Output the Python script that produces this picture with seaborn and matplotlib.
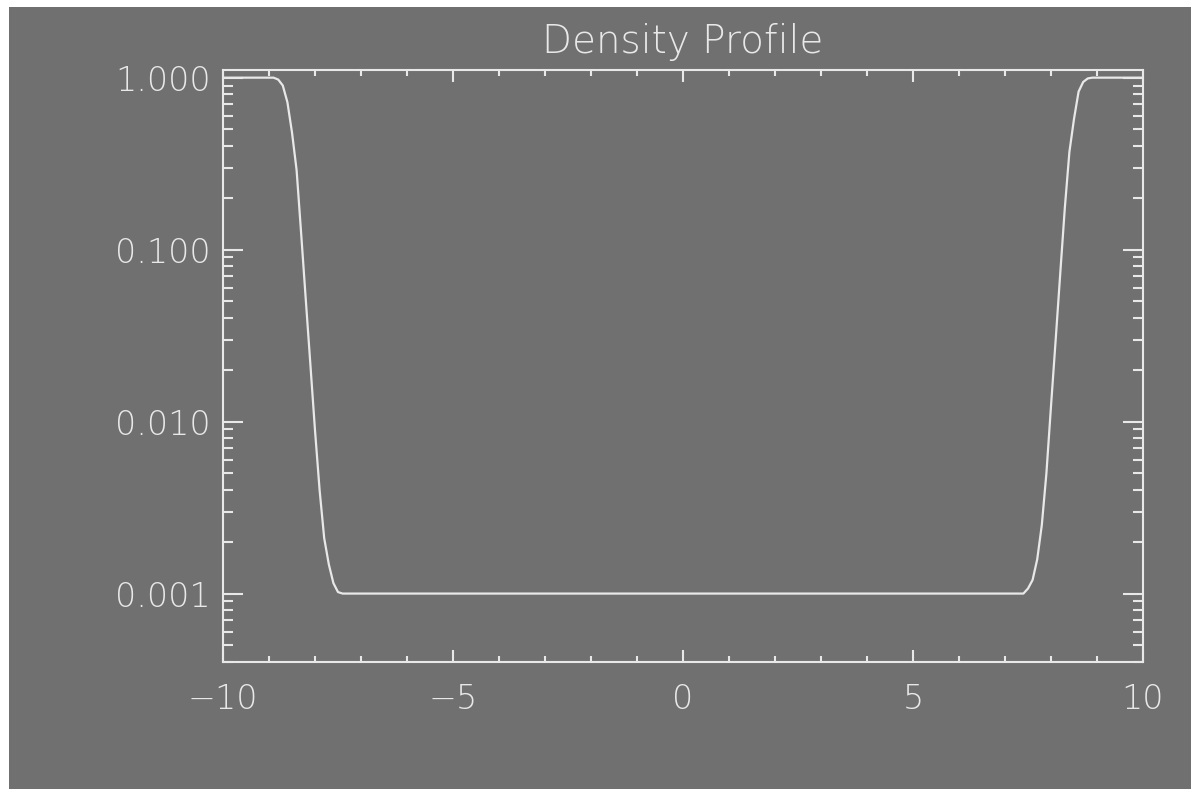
import matplotlib
matplotlib.use("Agg")
import matplotlib.pyplot as plt
import matplotlib.ticker as mticker
from matplotlib.patches import Rectangle
import seaborn as sns
import pandas as pd

# ---- data ----
x_pos = [-10.0, -8.9, -8.8, -8.7, -8.6, -8.5, -8.4, -8.3, -8.2, -8.1, -8.0,
         -7.9, -7.8, -7.7, -7.6, -7.5, -7.4,
         7.4, 7.5, 7.6, 7.7, 7.8, 7.9, 8.0, 8.1, 8.2, 8.3, 8.4, 8.5,
         8.6, 8.7, 8.8, 8.9, 10.0]
density = [1.0, 1.0, 0.975, 0.90, 0.72, 0.48, 0.29, 0.123, 0.051, 0.0214, 0.0089,
           0.0040, 0.0021, 0.00148, 0.00115, 0.00102, 0.001,
           0.001, 0.00107, 0.0012, 0.00158, 0.0025, 0.0050, 0.0123, 0.0295, 0.072, 0.174, 0.37, 0.575,
           0.83, 0.944, 0.99, 1.0, 1.0]
y_ticks = [0.001, 0.01, 0.1, 1.0]
y_tick_labels = ["0.001", "0.010", "0.100", "1.000"]
x_ticks = [-10, -5, 0, 5, 10]
x_tick_labels = ["\u221210", "\u22125", "0", "5", "10"]
title = "Density Profile"

df = pd.DataFrame({"x": x_pos, "density": density})

sns.set_theme(style="ticks")
plt.rcParams["font.family"] = ["DejaVu Sans"]
plt.rcParams["axes.unicode_minus"] = True

BG = "#707070"
FG = "#E8E8E8"
DPI = 100
W, H = 1191, 789

fig = plt.figure(figsize=(W / DPI, H / DPI), dpi=DPI)
fig.patch.set_facecolor("white")
# gray canvas offset (white strip on left and top)
fig.patches.append(Rectangle((9 / W, 0), 1 - 9 / W, 1 - 7 / H, transform=fig.transFigure,
                             facecolor=BG, edgecolor="none", zorder=-10))

ax = fig.add_axes([223 / W, 1 - 662 / H, (1143 - 223) / W, (662 - 70) / H])
ax.set_facecolor(BG)

sns.lineplot(data=df, x="x", y="density", ax=ax, color=FG, linewidth=1.6,
             estimator=None, sort=False)

ax.set_yscale("log")
ax.set_xlim(-10, 10)
ax.set_ylim(0.0004, 1.108)

ax.xaxis.set_major_locator(mticker.FixedLocator(x_ticks))
ax.xaxis.set_major_formatter(mticker.FixedFormatter(x_tick_labels))
ax.xaxis.set_minor_locator(mticker.MultipleLocator(1))
ax.yaxis.set_major_locator(mticker.FixedLocator(y_ticks))
ax.yaxis.set_major_formatter(mticker.FixedFormatter(y_tick_labels))
ax.yaxis.set_minor_locator(mticker.LogLocator(base=10, subs=[2, 3, 4, 5, 6, 7, 8, 9], numticks=20))
ax.yaxis.set_minor_formatter(mticker.NullFormatter())

for s in ax.spines.values():
    s.set_visible(True)
    s.set_color(FG)
    s.set_linewidth(1.5)

px = 72 / DPI
ax.tick_params(axis="both", which="both", direction="in", colors=FG, width=1.5,
               top=True, right=True, labeltop=False, labelright=False)
ax.tick_params(axis="x", which="major", length=12 * px, pad=21 * px, labelsize=24, labelcolor=FG)
ax.tick_params(axis="x", which="minor", length=6 * px)
ax.tick_params(axis="y", which="major", length=20 * px, pad=12 * px, labelsize=24, labelcolor=FG)
ax.tick_params(axis="y", which="minor", length=10 * px)
for lab in ax.get_xticklabels() + ax.get_yticklabels():
    lab.set_fontweight("light")

ax.set_xlabel("")
ax.set_ylabel("")
ax.set_title(title, color=FG, fontsize=28, pad=17 * px, fontweight="light")
ax.grid(False)

fig.savefig("out.png", dpi=DPI, facecolor=fig.get_facecolor())
